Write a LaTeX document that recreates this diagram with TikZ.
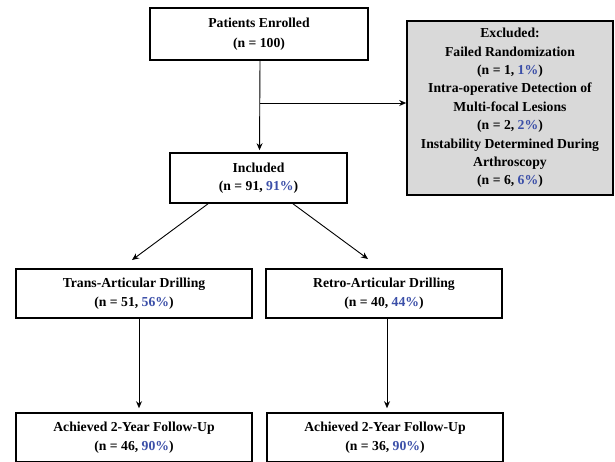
\documentclass[tikz,border=0pt]{standalone}
\usepackage{fontspec}
\setmainfont{Liberation Serif}
\usetikzlibrary{arrows.meta}
\definecolor{pctblue}{RGB}{59,79,168}
\definecolor{exclgray}{RGB}{217,217,217}
\newcommand{\pct}[1]{\textcolor{pctblue}{#1}}
\tikzset{
  box/.style={draw=black, line width=1.6pt, fill=white, align=center,
    font=\fontsize{13.7}{18.5}\selectfont\bfseries, inner sep=2pt},
  arr/.style={-{Stealth[length=7pt,width=6pt]}, line width=0.9pt}
}
\begin{document}
\begin{tikzpicture}[x=1pt, y=-1pt]
        \useasboundingbox (0,0) rectangle (615,461);
        \clip (0,0) rectangle (615,461);
        % Top boxes
        \node[box, minimum width=218pt, minimum height=52pt,
            font=\fontsize{13.7}{20}\selectfont\bfseries] (enrolled) at (259,34)
            {Patients Enrolled\\(n = 100)};
        \node[box, fill=exclgray, minimum width=206pt, minimum height=174pt,
            font=\fontsize{13.7}{18.4}\selectfont\bfseries] (excluded) at (510,108)
            {Excluded:\\Failed Randomization\\(n = 1, \pct{1\%})\\
             Intra-operative Detection of\\Multi-focal Lesions\\(n = 2, \pct{2\%})\\
             Instability Determined During\\Arthroscopy\\(n = 6, \pct{6\%})};
        \node[box, minimum width=177pt, minimum height=50pt] (included) at (258.5,178)
            {Included\\(n = 91, \pct{91\%})};

        % Treatment groups
        \node[box, minimum width=236pt, minimum height=49pt] (trans) at (134,293.5)
            {Trans-Articular Drilling\\(n = 51, \pct{56\%})};
        \node[box, minimum width=236pt, minimum height=49pt] (retro) at (384,293.5)
            {Retro-Articular Drilling\\(n = 40, \pct{44\%})};

        % Follow-up
        \node[box, minimum width=236pt, minimum height=49pt] (followA) at (134,437.5)
            {Achieved 2-Year Follow-Up\\(n = 46, \pct{90\%})};
        \node[box, minimum width=236pt, minimum height=49pt] (followB) at (385,437.5)
            {Achieved 2-Year Follow-Up\\(n = 36, \pct{90\%})};

        % Draw the arrows
        \coordinate (branch) at (260,103);
        \coordinate (tipL) at (132,260);
        \coordinate (tipR) at (368,259);
        \draw[arr, shorten >=2pt] ([xshift=1pt]enrolled.south) -- ([xshift=1pt]included.north);
        \draw[arr] (branch) -- (excluded.west |- branch);
        \draw[arr] ([xshift=-50.5pt]included.south) -- (tipL);
        \draw[arr] ([xshift=34.5pt]included.south) -- (tipR);
        \draw[arr, shorten >=4pt] ([xshift=5pt]trans.south) -- ([xshift=5pt]followA.north);
        \draw[arr, shorten >=4pt] ([xshift=3pt]retro.south) -- ([xshift=2pt]followB.north);
    \end{tikzpicture}
\end{document}
